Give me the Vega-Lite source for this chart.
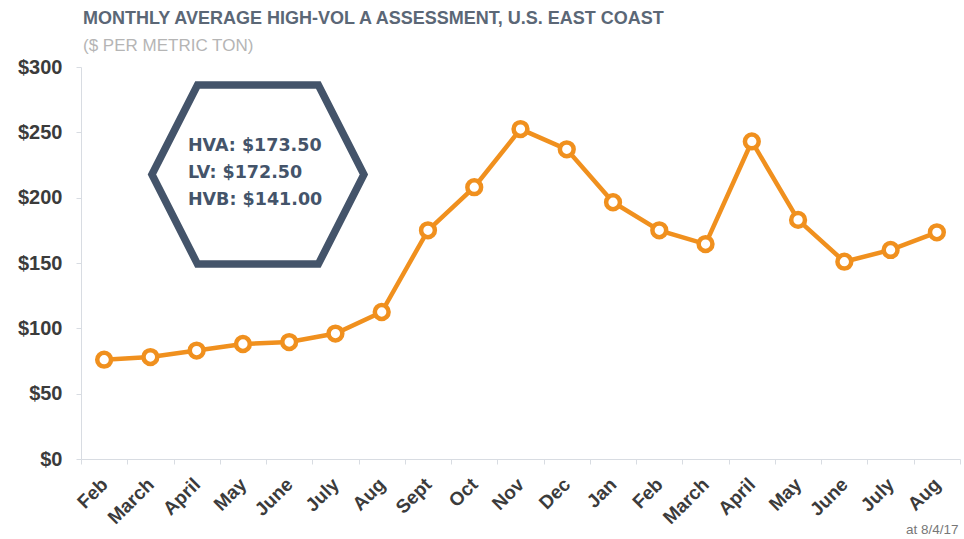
{
  "$schema": "https://vega.github.io/schema/vega-lite/v6.json",
  "width": 879,
  "height": 392,
  "autosize": {"type": "none"},
  "padding": {"left": 81, "top": 67, "right": 4, "bottom": 80},
  "background": "white",
  "title": {
    "text": "MONTHLY AVERAGE HIGH-VOL A ASSESSMENT, U.S. EAST COAST",
    "subtitle": "($ PER METRIC TON)",
    "anchor": "start",
    "frame": "group",
    "dx": 2,
    "offset": 3,
    "font": "Liberation Sans",
    "fontSize": 18,
    "fontWeight": "bold",
    "color": "#5b6776",
    "subtitleFont": "Liberation Sans",
    "subtitleFontSize": 17,
    "subtitleColor": "#b5b5b5",
    "subtitlePadding": 10
  },
  "config": {"view": {"stroke": null}},
  "layer": [
    {
      "data": {
        "values": [
          {"month": "Feb 16", "price": 76},
          {"month": "March 16", "price": 78},
          {"month": "April 16", "price": 83},
          {"month": "May 16", "price": 88},
          {"month": "June 16", "price": 89.5},
          {"month": "July 16", "price": 96},
          {"month": "Aug 16", "price": 112.5},
          {"month": "Sept 16", "price": 175},
          {"month": "Oct 16", "price": 208},
          {"month": "Nov 16", "price": 252.5},
          {"month": "Dec 16", "price": 237},
          {"month": "Jan 17", "price": 196.5},
          {"month": "Feb 17", "price": 175},
          {"month": "March 17", "price": 164.5},
          {"month": "April 17", "price": 243},
          {"month": "May 17", "price": 183},
          {"month": "June 17", "price": 151},
          {"month": "July 17", "price": 160},
          {"month": "Aug 17", "price": 173.5}
        ]
      },
      "encoding": {
        "x": {
          "field": "month",
          "type": "nominal",
          "sort": null,
          "scale": {"type": "band", "paddingInner": 0, "paddingOuter": 0},
          "axis": {
            "title": "at 8/4/17",
            "titleAnchor": "end",
            "titleAlign": "right",
            "titleBaseline": "alphabetic",
            "titleFont": "Liberation Sans",
            "titleFontSize": 13.5,
            "titleFontWeight": "normal",
            "titleColor": "#777777",
            "titleX": 877,
            "titleY": 74,
            "labelExpr": "split(datum.label, ' ')[0]",
            "labelAngle": -45,
            "labelBaseline": "middle",
            "labelAlign": "right",
            "labelFont": "Liberation Sans",
            "labelFontSize": 19,
            "labelFontWeight": "bold",
            "labelColor": "#3b3b3b",
            "labelPadding": 17,
            "tickBand": "extent",
            "tickSize": 5,
            "tickColor": "#d8dce2",
            "domainColor": "#d8dce2",
            "grid": false
          }
        },
        "y": {
          "field": "price",
          "type": "quantitative",
          "scale": {"domain": [0, 300]},
          "axis": {
            "title": null,
            "values": [0, 50, 100, 150, 200, 250, 300],
            "format": "$.0f",
            "labelFont": "Liberation Sans",
            "labelFontSize": 20,
            "labelFontWeight": "bold",
            "labelColor": "#3b3b3b",
            "labelPadding": 14,
            "tickSize": 5,
            "tickColor": "#d8dce2",
            "domainColor": "#d8dce2",
            "grid": false
          }
        }
      },
      "layer": [
        {"mark": {"type": "line", "color": "#f0901e", "strokeWidth": 4.5}},
        {"mark": {"type": "point", "shape": "circle", "filled": false, "fill": "white", "fillOpacity": 1, "stroke": "#f0901e", "strokeWidth": 4.5, "size": 190, "opacity": 1}}
      ]
    },
    {
      "data": {"values": [{"note": "HVA: $173.50\nLV: $172.50\nHVB: $141.00"}]},
      "encoding": {
        "x": {"datum": "May 16", "type": "nominal"},
        "y": {"datum": 217.7, "type": "quantitative"}
      },
      "layer": [
        {
          "mark": {
            "type": "point",
            "shape": "M-0.57,-0.845L0.57,-0.845L1,0L0.57,0.845L-0.57,0.845L-1,0Z",
            "filled": false,
            "stroke": "#44546a",
            "strokeWidth": 7.5,
            "size": 44944,
            "opacity": 1,
            "xOffset": 15
          }
        },
        {
          "mark": {
            "type": "text",
            "align": "left",
            "baseline": "middle",
            "lineBreak": "\n",
            "lineHeight": 27,
            "dx": -55,
            "dy": -29,
            "font": "DejaVu Sans",
            "fontSize": 17.5,
            "fontWeight": "bold",
            "color": "#44546a"
          },
          "encoding": {"text": {"field": "note"}}
        }
      ]
    }
  ]
}
